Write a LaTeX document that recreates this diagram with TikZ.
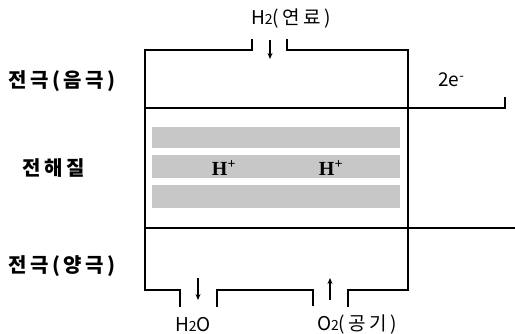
\documentclass[tikz,border=0pt]{standalone}
\usepackage{fontspec}
\setmainfont{Liberation Serif}
\newfontfamily\kr{Noto Sans CJK KR}
\newfontfamily\krsp[LetterSpace=18]{Noto Sans CJK KR}
\newfontfamily\krgas[LetterSpace=18]{Noto Sans CJK KR}
\newcommand{\smalltwo}{{\fontsize{14}{14}\selectfont 2}}
\usetikzlibrary{arrows.meta}
\tikzset{
  wire/.style={line width=1.1pt, line cap=rect},
  band/.style={fill=black!22},
  flow/.style={line width=1.1pt, -{Stealth[length=6pt,width=5pt]}},
  side/.style={font=\krsp\bfseries\fontsize{20}{20}\selectfont, anchor=west, inner sep=0pt},
  gas/.style={font=\krgas\fontsize{19}{19}\selectfont, inner sep=0pt},
  elec/.style={font=\kr\fontsize{19}{19}\selectfont, inner sep=0pt, anchor=west},
  ion/.style={font=\bfseries\fontsize{20}{20}\selectfont, inner sep=0pt}
}
\begin{document}
\begin{tikzpicture}[x=1pt,y=-1pt]
\useasboundingbox (0,0) rectangle (515,334);
% electrolyte bands
\fill[band] (152,127) rectangle (400,148);
\fill[band] (152,155) rectangle (400,178);
\fill[band] (152,185) rectangle (400,208);
% frame
\draw[wire] (252,40) -- (252,50) -- (145,50) -- (145,290) -- (180,290) -- (180,306);
\draw[wire] (287,40) -- (287,50) -- (408,50) -- (408,290) -- (348,290) -- (348,306);
\draw[wire] (217,306) -- (217,290) -- (313,290) -- (313,305);
\draw[wire] (145,108) -- (505,108) -- (505,98);
\draw[wire] (145,228) -- (515,228);
% arrows
\coordinate (a1s) at (270,40); \coordinate (a1e) at (270,59);
\coordinate (a2s) at (198,278); \coordinate (a2e) at (198,300);
\coordinate (a3s) at (330,300); \coordinate (a3e) at (330,278);
\draw[flow] (a1s) -- (a1e);
\draw[flow] (a2s) -- (a2e);
\draw[flow] (a3s) -- (a3e);
% labels
\node[gas] (fuel) at (291,19) {H\smalltwo(연료)};
\node[elec] (el) at (438,80) {2e\textsuperscript{-}};
\node[side] (neg) at (8,81) {전극(음극)};
\node[side] (ely) at (22,168) {전해질};
\node[side] (pos) at (8,266) {전극(양극)};
\node[ion] (h1) at (224,168) {H\textsuperscript{+}};
\node[ion] (h2) at (331,168) {H\textsuperscript{+}};
\node[gas] (water) at (193,325) {H\smalltwo O};
\node[gas] (air) at (357,325) {O\smalltwo(공기)};
\end{tikzpicture}
\end{document}
